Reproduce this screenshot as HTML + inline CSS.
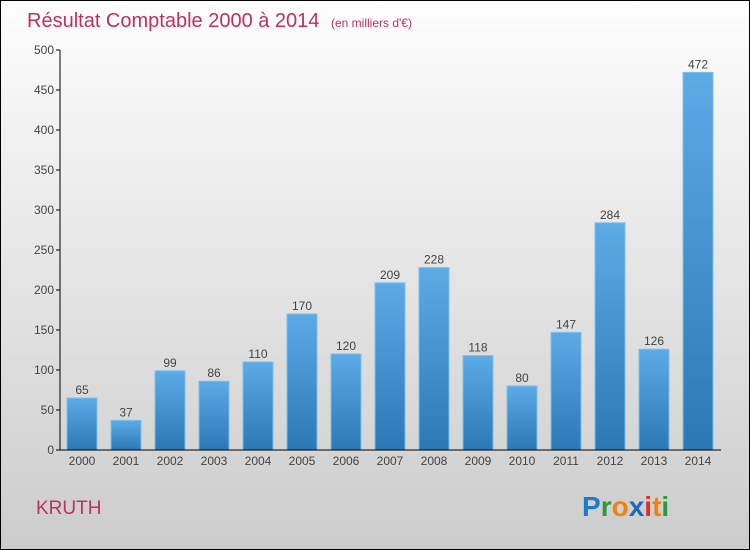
<!DOCTYPE html>
<html><head><meta charset="utf-8"><style>
body{margin:0;width:750px;height:550px;overflow:hidden}
svg{display:block}
</style></head><body>
<svg width="750" height="550" xmlns="http://www.w3.org/2000/svg">
<defs>
<linearGradient id="bg" x1="0" y1="0" x2="0" y2="1"><stop offset="0" stop-color="#fdfdfd"/><stop offset="1" stop-color="#cccccc"/></linearGradient>
<linearGradient id="bar" x1="0" y1="0" x2="0" y2="1"><stop offset="0" stop-color="#5caae6"/><stop offset="1" stop-color="#2a78b6"/></linearGradient>
</defs>
<rect x="0.5" y="0.5" width="749" height="549" fill="url(#bg)" stroke="#000"/>
<text x="27" y="27" font-family="Liberation Sans, sans-serif" font-size="20" fill="#c0305e">Résultat Comptable 2000 à 2014 <tspan font-size="12" dx="6">(en milliers d'€)</tspan></text>
<g id="plot"></g>
<text x="36" y="514" font-family="Liberation Sans, sans-serif" font-size="19" fill="#c0305e">KRUTH</text>
<g font-family="Liberation Sans, sans-serif" font-size="28" font-weight="bold">
<text x="582" y="516"><tspan fill="#1a7ad0">P</tspan><tspan fill="#2a9a3a">r</tspan><tspan fill="#f08010">o</tspan><tspan fill="#1a6ac0">x</tspan><tspan fill="#e03020">i</tspan><tspan fill="#f08010">t</tspan><tspan fill="#2a9a3a">i</tspan></text>
</g>
</svg>
<script>
const years=["2000","2001","2002","2003","2004","2005","2006","2007","2008","2009","2010","2011","2012","2013","2014"];
const values=[65,37,99,86,110,170,120,209,228,118,80,147,284,126,472];
const yTicks=[0,50,100,150,200,250,300,350,400,450,500];
const NS="http://www.w3.org/2000/svg";
const g=document.getElementById('plot');
const x0=60,x1=721,yTop=50,yBot=450,yMax=500;
const y=v=>yBot-(v/yMax)*(yBot-yTop);
const step=44,first=82,bw=30;
const xc=i=>first+i*step;
function mk(t,a){const e=document.createElementNS(NS,t);for(const k in a)e.setAttribute(k,a[k]);g.appendChild(e);return e;}
values.forEach((v,i)=>{
 const r=mk('rect',{x:xc(i)-bw/2,y:y(v),width:bw,height:yBot-y(v),fill:'url(#bar)',stroke:'#7cc0ee','stroke-width':1});
 
 
 const t=mk('text',{x:xc(i),y:y(v)-4,'text-anchor':'middle','font-family':'Liberation Sans, sans-serif','font-size':12,fill:'#444'});
 t.textContent=v;
 
 
 const xl=mk('text',{x:xc(i),y:yBot+15,'text-anchor':'middle','font-family':'Liberation Sans, sans-serif','font-size':12,fill:'#444'});
 xl.textContent=years[i];
 
 
});
yTicks.forEach(v=>{
 const l=mk('line',{x1:x0-4,x2:x0,y1:y(v),y2:y(v),stroke:'#000'});
 
 
 const t=mk('text',{x:x0-6,y:y(v)+4,'text-anchor':'end','font-family':'Liberation Sans, sans-serif','font-size':12,fill:'#444'});
 t.textContent=v;
 
 
});
const ya=mk('line',{x1:x0,x2:x0,y1:yTop,y2:yBot,stroke:'#000'});


const xa=mk('line',{x1:x0,x2:x1,y1:yBot,y2:yBot,stroke:'#000'});


</script>
</body></html>
